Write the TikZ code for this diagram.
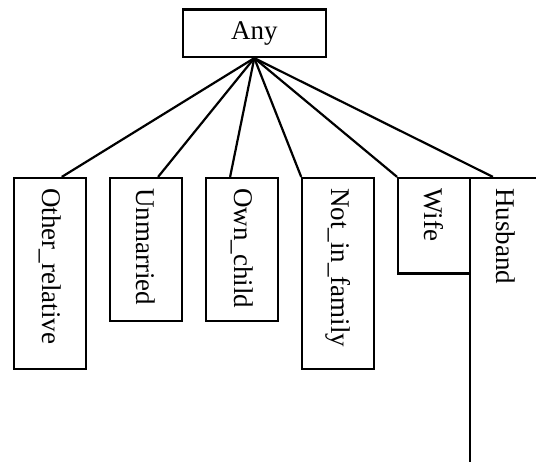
\documentclass[tikz,border=0pt]{standalone}
\usepackage{fontspec}
\setmainfont{Liberation Serif}
\tikzset{
    catbox/.style={draw=black, line width=1.1pt, minimum width=36pt, inner sep=0pt},
    vlabel/.style={rotate=-90, anchor=west, inner sep=0pt, font=\fontsize{13.5pt}{16pt}\selectfont},
    edge/.style={black, line width=1.1pt}
}

\begin{document}
\begin{tikzpicture}[x=0.5pt, y=-0.5pt]
    \useasboundingbox (0,0) rectangle (536,461);
    \clip (0,0) rectangle (536,461);

    \node[catbox, minimum width=71.7pt, minimum height=23.8pt, font=\fontsize{13.5pt}{16pt}\selectfont] (any) at (254.3,33.2) {Any};

    \node[catbox, minimum height=95.5pt] (or) at (50.3,273.5) {};
    \node[catbox, minimum height=71.5pt] (un) at (146.2,249.5) {};
    \node[catbox, minimum height=71.5pt] (oc) at (242.2,249.5) {};
    \node[catbox, minimum height=95.5pt] (nf) at (338.3,273.5) {};
    \node[catbox, minimum height=47.7pt] (wi) at (434.2,225.7) {};
    \node[catbox, minimum height=161pt] (hu) at (506,339) {};

    \node[vlabel] (orlbl) at ([yshift=-5.5pt]or.north) {Other\_relative};
    \node[vlabel] (unlbl) at ([yshift=-5.5pt]un.north) {Unmarried};
    \node[vlabel] (oclbl) at ([yshift=-5.5pt]oc.north) {Own\_child};
    \node[vlabel] (nflbl) at ([yshift=-5.5pt]nf.north) {Not\_in\_family};
    \node[vlabel] (wilbl) at ([yshift=-5.5pt]wi.north) {Wife};
    \node[vlabel] (hulbl) at ([yshift=-5.5pt]hu.north) {Husband};

    % edges from the root
    \draw[edge] (any.south) -- ([xshift=24.3pt]or.north west);
    \draw[edge] (any.south) -- ([xshift=24.5pt]un.north west);
    \draw[edge] (any.south) -- ([xshift=12.5pt]oc.north west);
    \draw[edge] (any.south) -- (nf.north west);
    \draw[edge] (any.south) -- (wi.north west);
    \draw[edge] (any.south) -- ([xshift=12pt]hu.north west);
\end{tikzpicture}
\end{document}
